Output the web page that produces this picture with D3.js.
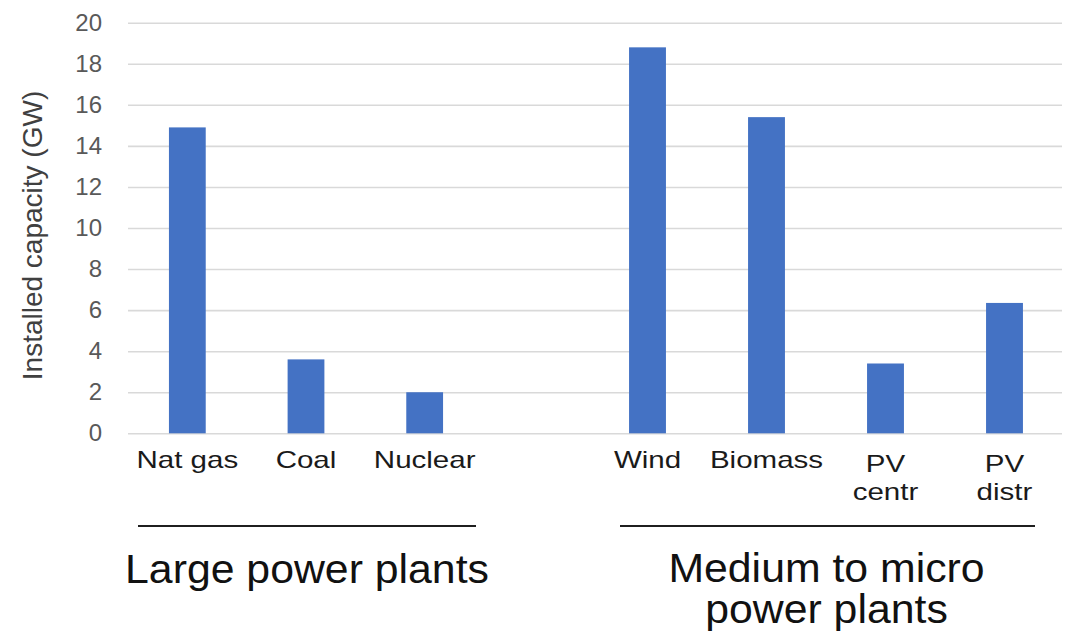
<!DOCTYPE html>
<html>
<head>
<meta charset="utf-8">
<script src="https://cdn.jsdelivr.net/npm/d3@7"></script>
<style>
  html, body { margin: 0; padding: 0; background: #ffffff; }
  svg { display: block; }
</style>
</head>
<body>
<svg id="chart" width="1066" height="634"></svg>
<script>
// Installed capacity by technology (GW)
const largeCategories = ["Nat gas", "Coal", "Nuclear"];
const largeValues = [14.9, 3.6, 2.0];
const smallCategories = ["Wind", "Biomass", "PV centr", "PV distr"];
const smallValues = [18.8, 15.4, 3.4, 6.35];
// Category labels as printed (multi-line where the label wraps)
const categoryLines = {
  "Nat gas": ["Nat gas"], "Coal": ["Coal"], "Nuclear": ["Nuclear"],
  "Wind": ["Wind"], "Biomass": ["Biomass"],
  "PV centr": ["PV", "centr"], "PV distr": ["PV", "distr"]
};
const yTicks = [0, 2, 4, 6, 8, 10, 12, 14, 16, 18, 20];
const yTitle = "Installed capacity (GW)";
const groupTitles = [["Large power plants"], ["Medium to micro", "power plants"]];

const svg = d3.select("#chart");
const barColor = "#4472C4";
const textFont = "'Liberation Sans', Arial, sans-serif";

const y = d3.scaleLinear().domain([0, 20]).range([433.3, 22.7]);

// Horizontal gridlines with tick labels
const gridLeft = 128, gridRight = 1062;
const yAxis = d3.axisLeft(y)
  .tickValues(yTicks)
  .tickSize(-(gridRight - gridLeft))
  .tickPadding(26)
  .tickFormat(d3.format("d"));
const yg = svg.append("g")
  .attr("transform", `translate(${gridLeft},0)`)
  .call(yAxis);
yg.select(".domain").remove();
yg.selectAll(".tick line").attr("stroke", "#d9d9d9").attr("stroke-width", 1.6);
yg.selectAll(".tick text")
  .attr("fill", "#595959")
  .style("font-family", textFont)
  .style("font-size", "24px");

// Y axis title
svg.append("text")
  .attr("transform", "translate(42,235.5) rotate(-90)")
  .attr("text-anchor", "middle")
  .attr("fill", "#404040")
  .style("font-family", textFont)
  .style("font-size", "28px")
  .text(yTitle);

// Two category groups, each with its own band scale
const groups = [
  { cats: largeCategories, vals: largeValues, range: [128, 484], line: [138, 476], titleY: 583, titleX: 307 },
  { cats: smallCategories, vals: smallValues, range: [588, 1064], line: [620, 1035], titleY: 582, titleX: 826.5 }
];

groups.forEach((g, gi) => {
  const x = d3.scaleBand()
    .domain(g.cats)
    .range(g.range)
    .paddingInner(0.69)
    .paddingOuter(0.345);

  const data = g.cats.map((c, i) => ({ cat: c, val: g.vals[i] }));

  svg.append("g").selectAll("rect")
    .data(data)
    .join("rect")
    .attr("x", d => x(d.cat))
    .attr("y", d => y(d.val))
    .attr("width", x.bandwidth())
    .attr("height", d => y(0) - y(d.val))
    .attr("fill", barColor);

  // Category labels beneath the bars (wrapped labels use tspans)
  svg.append("g").selectAll("text")
    .data(data)
    .join("text")
    .attr("transform", d => {
      const cx = x(d.cat) + x.bandwidth() / 2;
      const by = categoryLines[d.cat].length > 1 ? 472 : 468;
      return `translate(${cx},${by}) scale(1.23,1)`;
    })
    .attr("text-anchor", "middle")
    .attr("fill", "#1a1a1a")
    .style("font-family", textFont)
    .style("font-size", "24px")
    .each(function(d) {
      d3.select(this).selectAll("tspan")
        .data(categoryLines[d.cat])
        .join("tspan")
        .attr("x", 0)
        .attr("dy", (t, i) => i === 0 ? 0 : 28)
        .text(t => t);
    });

  // Bracket line under the group
  svg.append("line")
    .attr("x1", g.line[0]).attr("x2", g.line[1])
    .attr("y1", 526).attr("y2", 526)
    .attr("stroke", "#1f1f1f")
    .attr("stroke-width", 2.2);

  // Group title
  svg.append("text")
    .attr("transform", `translate(${g.titleX},${g.titleY}) scale(1.07,1)`)
    .attr("text-anchor", "middle")
    .attr("fill", "#111111")
    .style("font-family", textFont)
    .style("font-size", "40px")
    .selectAll("tspan")
    .data(groupTitles[gi])
    .join("tspan")
    .attr("x", 0)
    .attr("dy", (t, i) => i === 0 ? 0 : 41)
    .text(t => t);
});
</script>
</body>
</html>
